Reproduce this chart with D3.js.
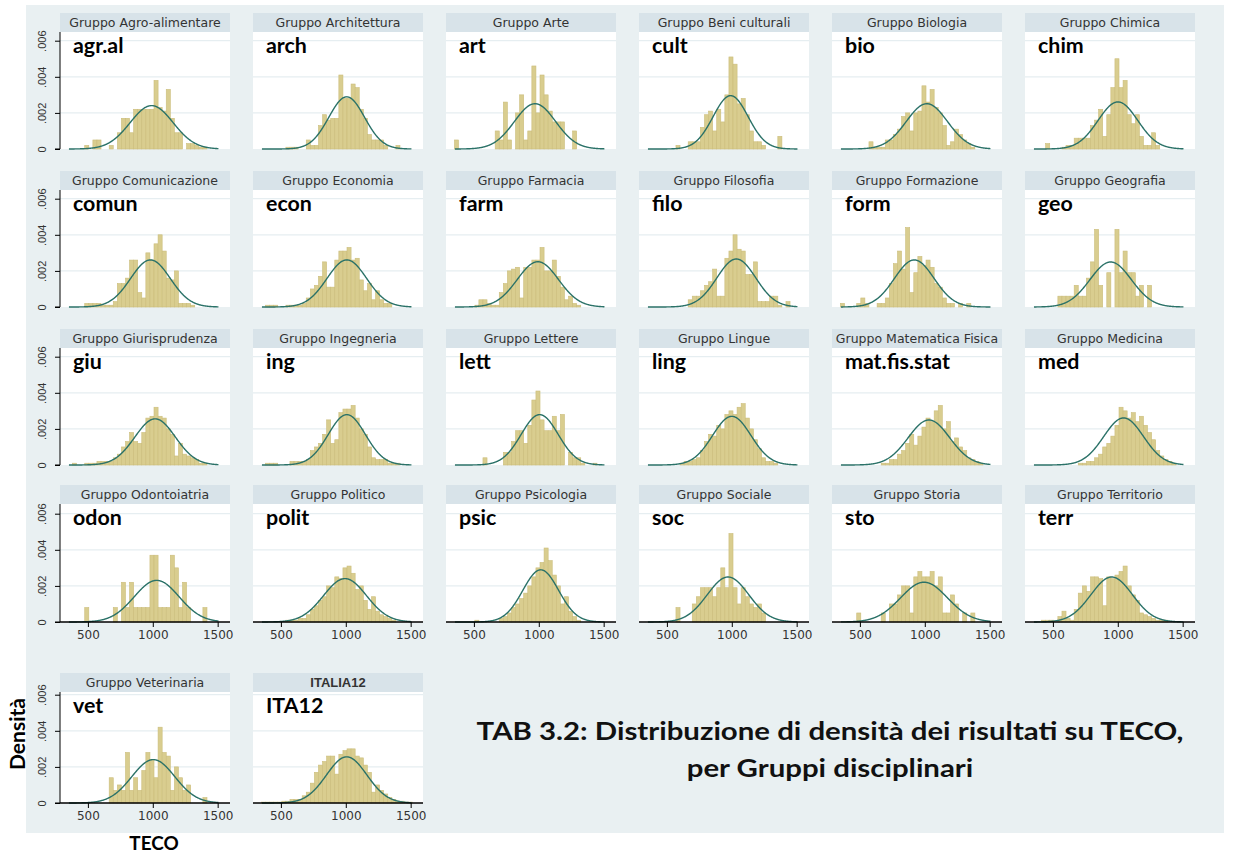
<!DOCTYPE html>
<html><head><meta charset="utf-8">
<script src="https://cdn.jsdelivr.net/npm/d3@7"></script>
<style>body{margin:0;background:#fff}</style>
</head><body><svg id="c" width="1237" height="855"></svg>
<script>
// ---- DATA ----
const groups = ["Gruppo Agro-alimentare","Gruppo Architettura","Gruppo Arte","Gruppo Beni culturali","Gruppo Biologia","Gruppo Chimica",
"Gruppo Comunicazione","Gruppo Economia","Gruppo Farmacia","Gruppo Filosofia","Gruppo Formazione","Gruppo Geografia",
"Gruppo Giurisprudenza","Gruppo Ingegneria","Gruppo Lettere","Gruppo Lingue","Gruppo Matematica Fisica","Gruppo Medicina",
"Gruppo Odontoiatria","Gruppo Politico","Gruppo Psicologia","Gruppo Sociale","Gruppo Storia","Gruppo Territorio",
"Gruppo Veterinaria","ITALIA12"];
const codes = ["agr.al","arch","art","cult","bio","chim","comun","econ","farm","filo","form","geo",
"giu","ing","lett","ling","mat.fis.stat","med","odon","polit","psic","soc","sto","terr","vet","ITA12"];
const binStart = 350, binWidth = 31.4;          // common bins (TECO score)
const xTicks = [500, 1000, 1500];
const yTicks = [0, 0.002, 0.004, 0.006];
const yTickLabels = ["0", ".002", ".004", ".006"];
// bin densities, in units of 0.0001
const agral = [0,0,0,0,2,0,5,5,0,0,2,0,9,17,17,9,22,22,22,22,22,38,23,21,33,17,9,9,0,3,3,2,1,1,0,0,0];
const arch  = [0,0,0,0,0,0,1,1,1,0,0,5,2,2,13,19,16,17,17,41,28,28,36,34,22,17,8,5,5,5,2,0,0,2,0,0,0];
const art   = [5,0,0,0,0,0,0,0,0,0,10,5,26,5,0,20,30,5,10,46,20,41,30,21,15,15,15,0,0,10,0,0,0,0,0,0,0];
const cult  = [0,0,0,0,0,0,0,2,0,0,4,4,4,12,19,21,10,22,15,30,51,47,25,28,19,10,4,4,2,0,0,0,7,0,0,0,0];
const bio   = [0,0,0,0,0,0,0,4,1,1,1,5,5,8,11,18,20,10,20,21,35,26,33,23,20,13,2,4,11,8,5,3,1,0,0,0,0];
const chim  = [0,0,0,3,0,0,0,1,2,2,6,6,6,6,13,16,22,7,19,34,50,34,38,19,14,19,7,2,2,9,2,0,0,0,0,0,0];
const comun = [0,0,0,0,2,2,2,2,1,1,1,3,13,13,16,26,26,8,5,30,26,35,40,31,16,15,20,2,2,2,1,0,0,0,0,0,0];
const econ  = [0,1,1,1,0,0,1,1,1,1,2,5,10,12,17,25,11,11,26,31,31,33,26,27,15,9,13,4,9,4,2,2,0,0,0,0,0];
const farm  = [0,0,0,0,0,1,4,4,2,1,1,8,13,20,21,22,5,22,22,26,26,33,20,20,26,17,11,4,6,2,1,0,0,0,0,0,0];
const filo  = [0,0,0,0,0,0,0,0,0,0,4,6,6,9,12,14,21,6,6,27,31,40,32,31,18,18,25,3,3,3,6,6,1,0,3,0,0];
const form  = [2,0,0,0,2,5,2,0,0,2,2,5,13,24,31,21,44,8,19,28,23,26,22,13,11,5,2,2,0,2,0,2,0,0,0,0,0];
const geo   = [0,0,0,0,0,0,6,6,6,6,12,6,6,16,25,43,12,0,19,0,43,19,31,19,19,6,12,0,12,0,0,0,0,0,0,0,0];
const giu   = [0,1,0,0,1,1,1,2,2,2,2,4,6,10,13,18,13,12,18,26,27,32,27,26,20,17,5,12,6,5,4,3,1,1,0,0,0];
const ing   = [0,1,1,1,0,0,0,2,2,2,2,3,8,10,12,17,25,12,14,29,31,31,33,26,20,17,10,4,3,3,3,1,1,1,0,0,0];
const lett  = [0,0,0,0,0,0,0,4,0,0,0,0,7,7,13,19,19,12,22,36,41,25,19,19,27,19,28,0,7,4,4,1,0,0,1,0,0];
const ling  = [0,0,0,0,0,0,0,0,1,2,2,3,4,8,13,17,16,22,20,28,30,28,32,34,26,20,14,9,4,2,2,1,0,0,0,0,0];
const mat   = [0,0,0,0,0,0,0,0,0,0,1,1,3,3,6,8,12,17,11,16,21,26,24,30,33,20,24,13,15,10,8,4,3,2,1,0,0];
const med   = [0,0,0,0,0,0,0,0,0,0,0,1,1,2,2,4,6,10,12,16,22,32,30,26,29,24,27,22,18,14,8,5,3,2,1,0,0];
const odon  = [0,0,0,0,8,0,0,0,0,0,0,8,0,22,8,22,8,8,8,8,37,37,8,8,8,37,30,8,22,8,0,0,0,8,0,0,0];
const polit = [0,0,0,0,0,0,1,1,1,2,2,4,7,9,12,14,20,19,25,24,30,31,27,18,20,12,7,14,6,4,3,2,1,0,0,0,0];
const psic  = [0,0,0,0,0,1,0,0,0,0,0,2,3,5,8,10,13,16,20,25,30,33,41,34,26,20,10,14,6,3,1,0,0,0,0,0,0];
const soc   = [0,0,0,0,0,0,0,8,0,0,0,10,14,19,19,19,14,19,30,19,49,19,10,19,14,10,8,10,5,0,0,0,0,0,0,0,0];
const sto   = [0,0,0,0,5,0,0,0,0,0,5,0,10,10,15,20,20,5,25,28,25,25,28,20,25,5,5,15,10,0,5,0,5,0,0,0,0];
const terr  = [0,0,1,1,1,0,3,6,2,1,7,16,20,17,25,25,24,9,25,24,26,28,31,20,15,12,5,4,3,2,1,1,1,0,0,0,0];
const vet   = [0,0,0,0,0,0,0,0,0,0,14,7,10,7,28,7,14,7,18,28,24,14,42,28,26,7,20,14,7,10,0,0,0,3,0,0,0];
const ita12 = [0.5,0.5,0.5,0.5,0.5,1,1,2,2,2,4,6,11,17,21,23,26,26,16,27,29,30,30,26,25,21,17,6,10,7,5,3,2,1,1,0.5,0.5];
// normal-curve parameters (mean, sd) of TECO per group
const means = [991,1007,971,991,1016,1001, 982,1008,993,1035,919,945, 1018,1008,1007,1000,1032,1045, 1030,994,1015,971,994,953, 1004,1007];
const sds   = [166,138,159,135,159,153, 153,153,159,150,153,160, 156,143,143,148,160,153, 173,166,138,160,181,160, 166,156];
const curveRange = [354, 1506];
const densities = [agral,arch,art,cult,bio,chim,comun,econ,farm,filo,form,geo,giu,ing,lett,ling,mat,med,odon,polit,psic,soc,sto,terr,vet,ita12];

// ---- LAYOUT ----
const svg = d3.select("#c");
const colX = d3.range(6).map(c => 60 + 193 * c);
const panelW = 170;
const baseY = [149, 307, 465, 622, 803];
const topY  = [32, 190, 348, 504, 692];
const headerH = 19;

svg.append("rect").attr("x", 26).attr("y", 5).attr("width", 1198).attr("height", 828).attr("fill", "#e9f0f2");

const barFill = "#d9cd8f", barStroke = "#cbbd7b", curveCol = "#2b7268";

groups.forEach((g, p) => {
  const r = Math.floor(p / 6), c = p % 6;
  const x0 = colX[c], B = baseY[r], T = topY[r];
  const x = d3.scaleLinear().domain([285, 1595]).range([x0, x0 + panelW]);
  const y = d3.scaleLinear().domain([0, 0.001]).range([B, B - 18.05]);
  const gp = svg.append("g");
  // header
  gp.append("rect").attr("x", x0).attr("y", T - headerH).attr("width", panelW).attr("height", headerH).attr("fill", "#d8e3e9");
  gp.append("text").attr("x", x0 + panelW / 2).attr("y", T - 5).attr("text-anchor", "middle")
    .attr("font-family", p === 25 ? "Liberation Sans" : "DejaVu Sans").attr("font-size", p === 25 ? 13 : 12.5)
    .attr("font-weight", p === 25 ? "bold" : "normal").attr("fill", "#333").text(g);
  // plot area
  gp.append("rect").attr("x", x0).attr("y", T).attr("width", panelW).attr("height", B - T).attr("fill", "#fff");
  gp.selectAll("line.grid").data(yTicks.slice(1)).join("line")
    .attr("x1", x0).attr("x2", x0 + panelW).attr("y1", d => y(d)).attr("y2", d => y(d))
    .attr("stroke", "#e6eef1").attr("stroke-width", 1.2);
  // bars
  const dens = densities[p];
  gp.selectAll("rect.bar").data(dens.map((v, i) => ({v: v * 1e-4, i})).filter(d => d.v > 0)).join("rect")
    .attr("x", d => x(binStart + d.i * binWidth))
    .attr("width", d => x(binStart + (d.i + 1) * binWidth) - x(binStart + d.i * binWidth))
    .attr("y", d => y(d.v)).attr("height", d => B - y(d.v))
    .attr("fill", barFill).attr("stroke", barStroke).attr("stroke-width", 0.6);
  // normal curve
  const m = means[p], s = sds[p];
  const pts = d3.range(curveRange[0], curveRange[1] + 1, 3).map(t => [t, Math.exp(-0.5 * ((t - m) / s) ** 2) / (s * Math.sqrt(2 * Math.PI))]);
  gp.append("path").attr("d", d3.line().x(d => x(d[0])).y(d => y(d[1]))(pts))
    .attr("fill", "none").attr("stroke", curveCol).attr("stroke-width", 1.4);
  // code label
  gp.append("text").attr("transform", `translate(${x0 + 13},${T + 21}) scale(1.07,1)`)
    .attr("font-family", "Lato").attr("font-weight", "bold")
    .attr("font-size", 20).attr("fill", "#000").text(codes[p]);
  // y axis (first column)
  if (c === 0) {
    const ya = d3.axisLeft(y).tickValues(yTicks).tickFormat((d, i) => yTickLabels[i]).tickSize(5).tickPadding(0);
    const ag = gp.append("g").attr("transform", `translate(${x0},0)`).call(ya);
    ag.select(".domain").attr("d", `M-5,${B}H0V${T}`).attr("stroke", "#000");
    ag.selectAll(".tick line").attr("stroke", "#000");
    ag.selectAll(".tick text").attr("transform", "rotate(-90)").attr("x", 0).attr("y", -14)
      .attr("dy", 0).attr("text-anchor", "middle").attr("font-family", "Liberation Sans").attr("font-size", 11).attr("fill", "#333");
  }
  // x axis (bottom panels)
  if (r >= 3) {
    const xa = d3.axisBottom(x).tickValues(xTicks).tickFormat(d3.format("d")).tickSize(5).tickPadding(3);
    const ag = gp.append("g").attr("transform", `translate(0,${B})`).call(xa);
    ag.select(".domain").attr("d", `M${x0},0H${x0 + panelW}`).attr("stroke", "#000").attr("stroke-width", 1.3);
    ag.selectAll(".tick line").attr("stroke", "#000");
    ag.selectAll(".tick text").attr("font-family", "DejaVu Sans").attr("font-size", 12).attr("fill", "#333");
  }
});

// axis titles
svg.append("text").attr("transform", "translate(25,734) rotate(-90)").attr("text-anchor", "middle")
  .attr("font-family", "Lato").attr("font-weight", "bold").attr("font-size", 21).text("Densità");
svg.append("text").attr("transform", "translate(154,850) scale(1.05,1)").attr("text-anchor", "middle")
  .attr("font-family", "Lato").attr("font-weight", "bold").attr("font-size", 18).text("TECO");
// title (horizontally stretched like the reference lettering)
const title = svg.append("text").attr("transform", "translate(830,0) scale(1.2,1)").attr("text-anchor", "middle")
  .attr("font-family", "Lato").attr("font-weight", "bold").attr("font-size", 24.5).attr("fill", "#111");
title.append("tspan").attr("x", 0).attr("y", 740).text("TAB 3.2: Distribuzione di densità dei risultati su TECO,");
title.append("tspan").attr("x", 0).attr("y", 777).text("per Gruppi disciplinari");
</script></body></html>
